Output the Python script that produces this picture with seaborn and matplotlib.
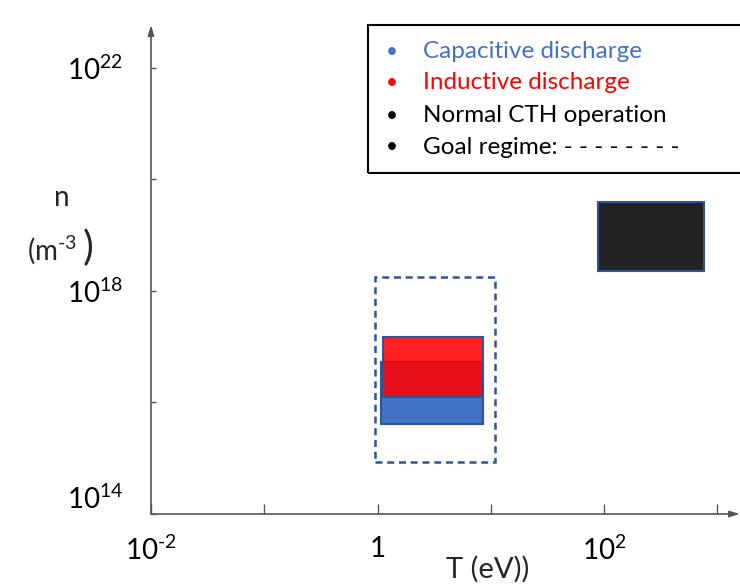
import matplotlib
matplotlib.use("Agg")
import matplotlib.pyplot as plt
import seaborn as sns
from matplotlib.patches import Rectangle

# ---- data ----
regimes = ["Capacitive discharge", "Inductive discharge", "Normal CTH operation", "Goal regime"]
T_min = [1.07, 1.12, 88.0, 0.95]
T_max = [8.5, 8.5, 760.0, 10.9]
n_min = [4.1e15, 1.26e16, 2.3e18, 8.6e14]
n_max = [5.3e16, 1.5e17, 3.9e19, 1.8e18]

x_ticks = [1e-2, 1e-1, 1, 1e1, 1e2, 1e3]
x_tick_labels = ["$\\mathregular{10^{\u2010 2}}$", "", "1", "", r"$\mathregular{10^{2}}$", ""]
y_ticks = [1e14, 1e16, 1e18, 1e20, 1e22]
y_tick_labels = [r"$\mathregular{10^{14}}$", "", r"$\mathregular{10^{18}}$", "", r"$\mathregular{10^{22}}$"]

legend_texts = ["Capacitive discharge", "Inductive discharge", "Normal CTH operation",
                "Goal regime: - - - - - - - -"]
legend_colors = ["#4472C4", "#FF0000", "#000000", "#000000"]

# ---- style ----
sns.set_theme(style="white")
FONT = "Lato"
plt.rcParams["font.family"] = [FONT, "DejaVu Sans"]
plt.rcParams["mathtext.fontset"] = "custom"
plt.rcParams["mathtext.rm"] = FONT
plt.rcParams["mathtext.it"] = FONT

W, H = 740, 585
fig = plt.figure(figsize=(W / 100, H / 100), dpi=100)
ax = fig.add_axes([151 / W, 1 - 514 / H, (740 - 151) / W, (514 - 25) / H])
ax.set_xscale("log")
ax.set_yscale("log")
ax.set_xlim(1e-2, 10 ** 3.2)
ax.set_ylim(1e14, 10 ** 22.77)

edge = "#2F5597"
fills = ["#4472C4", (1.0, 0.0, 0.0, 0.87), "#222222", "none"]
for i, name in enumerate(regimes):
    x0, x1, y0, y1 = T_min[i], T_max[i], n_min[i], n_max[i]
    if name == "Goal regime":
        r = Rectangle((x0, y0), x1 - x0, y1 - y0, fill=False, edgecolor=edge,
                      lw=1.8, linestyle=(0, (2.8, 1.9)), zorder=2)
    else:
        r = Rectangle((x0, y0), x1 - x0, y1 - y0, facecolor=fills[i], edgecolor=edge,
                      lw=1.5, zorder=3 + i)
    ax.add_patch(r)

# axes: spines as arrows
for s in ax.spines.values():
    s.set_visible(False)
axis_col = "#555555"
ax.annotate("", xy=(0, 1), xytext=(0, 0), xycoords="axes fraction",
            arrowprops=dict(arrowstyle="-|>,head_length=0.5,head_width=0.15", color=axis_col, lw=1.2,
                            shrinkA=0, shrinkB=0), annotation_clip=False)
ax.annotate("", xy=(1.0, 0), xytext=(0, 0), xycoords="axes fraction",
            arrowprops=dict(arrowstyle="-|>,head_length=0.5,head_width=0.15", color=axis_col, lw=1.2,
                            shrinkA=0, shrinkB=0), annotation_clip=False)

ax.set_xticks(x_ticks)
ax.set_xticklabels(x_tick_labels)
ax.set_yticks(y_ticks)
ax.set_yticklabels(y_tick_labels)
ax.minorticks_off()
ax.tick_params(axis="x", direction="in", length=7, width=1, color=axis_col, pad=16,
               labelsize=20, labelcolor="black", bottom=True)
ax.tick_params(axis="y", direction="in", length=3.5, width=1, color=axis_col, pad=20,
               labelsize=20, labelcolor="black", left=True)
for lab in ax.get_yticklabels():
    if "14" in lab.get_text():
        lab.set_va("bottom")
ax.grid(False)

# axis titles
fig.text(62 / W, 1 - 198 / H, "n", ha="center", va="center", fontsize=20)
fig.text(52 / W, 1 - 250 / H, "(m$\\mathregular{^{\u2010 3}}$", ha="center", va="center", fontsize=20)
fig.text(88 / W, 1 - 248 / H, ")", ha="center", va="center", fontsize=29)
fig.text(488 / W, 1 - 569 / H, "T (eV))", ha="center", va="center", fontsize=21)

# legend box
box = Rectangle((368 / W, 1 - 173 / H), (745 - 368) / W, (173 - 25) / H, transform=fig.transFigure,
                fill=False, edgecolor="black", lw=1.5, clip_on=False)
fig.add_artist(box)
ys = [52, 83, 116, 147]
for t, c, yy in zip(legend_texts, legend_colors, ys):
    fig.text(392 / W, 1 - yy / H, "•", ha="center", va="center", fontsize=15, color=c)
    fig.text(423 / W, 1 - yy / H, t, ha="left", va="center", fontsize=17.5, color=c)

fig.savefig("out.png", dpi=100)
